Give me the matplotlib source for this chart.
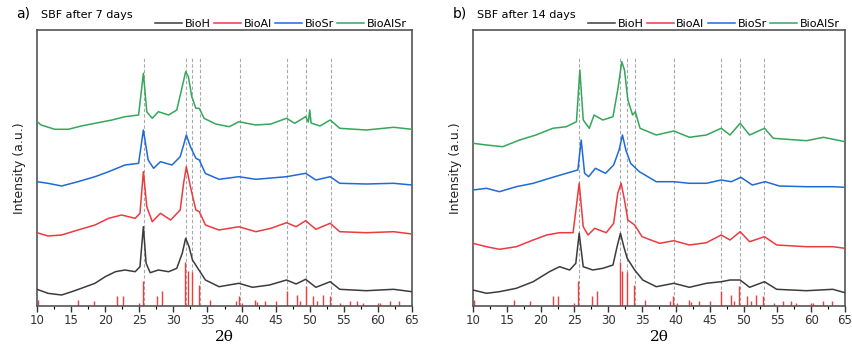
import matplotlib
matplotlib.use("Agg")
import numpy as np
from matplotlib import pyplot as plt
from matplotlib.ticker import MultipleLocator

# --- SBF after 7 days (2theta, intensity a.u.) ---
bioh_7_x = [10.0, 11.6, 13.6, 15.1, 16.5, 18.5, 20.0, 21.5, 22.9, 24.4, 25.1, 25.6, 26.0, 26.6, 27.8, 29.3,
            30.5, 31.3, 31.8, 32.3, 32.8, 33.7, 34.7, 36.7, 39.6, 41.6, 44.1, 46.6, 48.0, 49.4, 50.9, 53.0,
            54.4, 58.3, 62.3, 65.0]
bioh_7_y = [16.7, 12.7, 11, 14.3, 17.7, 22.7, 29.3, 34.3, 36, 34.3, 39.3, 79.3, 42.7, 33.3, 36, 34.3,
            37.7, 52.7, 67.7, 59.3, 46, 36.5, 26, 19.3, 22.7, 18.7, 21, 26, 22, 26.7, 18.7, 24.3,
            16.7, 15.3, 16.7, 14.3]
bioal_7_x = [10.0, 11.6, 13.6, 16.0, 18.5, 20.5, 22.4, 24.4, 25.1, 25.6, 26.1, 26.9, 28.1, 29.6, 31.0, 31.5,
             31.9, 32.5, 33.3, 33.8, 34.7, 36.7, 39.6, 42.1, 44.3, 46.6, 48.0, 49.4, 50.9, 53.0, 54.4, 58.3,
             62.3, 65.0]
bioal_7_y = [73.3, 70, 71, 76, 81, 87.7, 91, 87.7, 92.7, 134.3, 99.3, 84.3, 92.7, 86, 96, 122.7,
             139.3, 119.3, 96, 94.3, 81, 76, 79.3, 74.3, 77.7, 83.3, 79.3, 85.3, 76.7, 82.7, 74.3, 73.3,
             74.3, 72]
biosr_7_x = [10.0, 11.6, 13.6, 16.0, 18.5, 20.5, 22.9, 24.9, 25.6, 26.3, 27.1, 28.1, 29.8, 31.0, 31.5, 31.9,
             32.5, 33.3, 33.8, 34.7, 36.7, 39.6, 42.1, 46.6, 49.4, 50.9, 53.0, 54.4, 58.3, 62.3, 65.0]
biosr_7_y = [124.3, 122.7, 120, 124.3, 129.3, 134.3, 141, 142.7, 176, 146, 137.7, 144.3, 141, 149.3, 161, 171,
             159.3, 147.7, 146, 132.5, 126.7, 129.3, 126.7, 129.3, 132.7, 126, 129.3, 122.7, 122, 122.7, 121]
bioalsr_7_x = [10.0, 10.6, 12.6, 14.6, 16.5, 18.5, 21.0, 22.9, 24.9, 25.6, 26.1, 26.9, 27.8, 29.3, 30.5, 31.3,
               31.8, 32.2, 32.7, 33.3, 33.8, 34.5, 36.2, 38.2, 39.6, 42.1, 44.3, 46.6, 47.8, 49.4, 49.8, 50.0,
               50.2, 51.5, 53.0, 54.4, 58.3, 62.3, 65.0]
bioalsr_7_y = [184.3, 181, 176.7, 176.7, 180, 182.7, 186, 189.3, 191, 232.7, 194.3, 187.7, 194.3, 191, 196, 219.3,
               234.3, 229.3, 209.3, 197.7, 197.7, 187.7, 182, 179.3, 184.3, 181, 182, 187.7, 182.7, 189.3, 184, 196,
               183, 180, 186, 177.7, 176, 178.7, 176.7]

# --- SBF after 14 days ---
bioh_14_x = [10.0, 12.0, 13.9, 16.4, 18.9, 21.3, 22.8, 24.3, 25.2, 25.7, 26.3, 27.7, 29.2, 30.7, 31.3, 31.8,
             32.3, 32.8, 33.9, 35.1, 37.1, 39.7, 42.0, 44.5, 46.7, 48.0, 49.5, 50.9, 53.1, 54.9, 59.3, 63.2, 65.0]
bioh_14_y = [16, 12.7, 14.3, 17.7, 24.3, 34.3, 39.3, 36, 42.7, 72.7, 39.3, 36, 37.7, 41, 59.3, 72.7,
             59.3, 47.7, 36, 26, 19.3, 22.7, 18.7, 22.7, 24.3, 26, 26, 18.7, 24.3, 16.7, 15.3, 16.7, 13.3]
bioal_14_x = [10.0, 12.0, 13.9, 16.4, 18.9, 20.9, 22.8, 24.8, 25.7, 26.3, 27.0, 28.0, 29.7, 30.8, 31.4, 31.9,
              32.4, 32.9, 33.9, 35.0, 37.6, 39.7, 42.0, 44.5, 46.7, 48.0, 49.5, 50.9, 53.1, 54.9, 59.3, 63.2, 65.0]
bioal_14_y = [62.7, 59.3, 56.7, 59.3, 66, 71, 73.3, 73.3, 122.7, 79.3, 71, 77.7, 73.3, 82.7, 112.7, 122.7,
              106, 86, 81, 69.3, 62.7, 65.3, 61, 63.3, 71, 66, 74.3, 64.3, 69.3, 61, 59.3, 59.3, 57.7]
biosr_14_x = [10.0, 12.0, 13.9, 16.4, 18.9, 21.3, 23.8, 25.5, 26.0, 26.5, 27.1, 28.1, 29.6, 30.8, 31.6, 32.1,
              32.6, 33.3, 34.6, 37.1, 39.7, 42.0, 44.5, 46.7, 48.2, 49.6, 51.3, 53.2, 55.3, 59.3, 63.2, 65.0]
biosr_14_y = [116, 117.7, 114.3, 119.3, 122.7, 127.7, 132.7, 136, 166, 132.7, 129.3, 137.7, 132.7, 141, 156, 171,
              156, 142.7, 134.3, 124.3, 124.3, 122.7, 122.7, 126, 124.3, 128.7, 121, 124.3, 120, 119.3, 119.3, 118.7]
bioalsr_14_x = [10.0, 12.0, 14.4, 16.9, 19.3, 21.8, 23.8, 25.3, 25.8, 26.3, 27.2, 27.9, 29.2, 30.7, 31.4, 32.0,
                32.4, 32.9, 33.6, 34.0, 34.7, 37.1, 39.7, 42.0, 44.5, 46.7, 48.0, 49.5, 50.9, 53.1, 54.4, 59.3,
                61.8, 65.0]
bioalsr_14_y = [162.7, 161, 159.3, 166, 171, 177.7, 179.3, 184.3, 236, 186, 177.7, 191, 186, 189.3, 216, 244.3,
                236, 206, 191, 194.3, 177.7, 171, 175, 168.7, 171, 177.7, 171, 182.7, 171, 177.7, 167.7, 165.3,
                168.7, 164.3]

# hydroxyapatite reference pattern (red sticks)
ref_pos = [10.1, 16.0, 18.4, 21.8, 22.6, 25.0, 25.5, 27.6, 28.3, 31.7, 32.1, 32.8, 33.8, 35.4, 39.2, 39.6,
           40.1, 42.0, 42.2, 43.4, 45.1, 46.6, 48.1, 48.6, 49.4, 50.5, 51.1, 51.9, 52.9, 54.5, 55.9, 57.0,
           57.8, 60.0, 60.3, 61.7, 63.1]
ref_int = [6, 6, 5, 10.3, 10.3, 3, 25, 10.3, 15, 44, 35, 34, 21, 6, 5, 10.3,
           3, 6, 4, 5, 5, 15, 11, 5, 20, 10, 5, 11, 10, 3, 5, 5,
           3, 3, 3, 5, 5]
dashed_pos = [25.7, 31.8, 32.8, 33.9, 39.7, 46.7, 49.5, 53.1]

labels = ["BioH", "BioAl", "BioSr", "BioAlSr"]
colors = ["#3c3c3c", "#ec3a3f", "#1f6ad8", "#35a65a"]

panels = [
    ("a)", "SBF after 7 days", [(bioh_7_x, bioh_7_y), (bioal_7_x, bioal_7_y),
                                (biosr_7_x, biosr_7_y), (bioalsr_7_x, bioalsr_7_y)]),
    ("b)", "SBF after 14 days", [(bioh_14_x, bioh_14_y), (bioal_14_x, bioal_14_y),
                                 (biosr_14_x, biosr_14_y), (bioalsr_14_x, bioalsr_14_y)]),
]

fig = plt.figure(figsize=(8.53, 3.5), dpi=100)
rects = [[0.0434, 0.1257, 0.4396, 0.7886], [0.5545, 0.1257, 0.4361, 0.7886]]

for rect, (tag, title, series) in zip(rects, panels):
    ax = fig.add_axes(rect)
    for xp in dashed_pos:
        ax.axvline(xp, ymin=0.0, ymax=0.9, color="#a8a8a8", lw=0.8, ls=(0, (3, 2)), zorder=1)
    ax.vlines(ref_pos, 0, ref_int, color="#f03c3c", lw=1.0, zorder=2)
    for (xs, ys), c, lab in zip(series, colors, labels):
        ax.plot(xs, ys, color=c, lw=1.1, label=lab, zorder=3)

    ax.set_xlim(10, 65)
    ax.set_ylim(0, 276)
    ax.xaxis.set_major_locator(MultipleLocator(5))
    ax.xaxis.set_minor_locator(MultipleLocator(2.5))
    ax.tick_params(axis="x", which="major", direction="out", length=4, width=1, labelsize=8.5,
                   colors="#333333", pad=2)
    ax.tick_params(axis="x", which="minor", direction="out", length=2.5, width=0.8)
    ax.set_yticks([])
    for sp in ax.spines.values():
        sp.set_color("#555555")
        sp.set_linewidth(1.2)
    ax.set_xlabel("2θ", family="DejaVu Serif", fontsize=11, labelpad=2)
    ax.set_ylabel("Intensity (a.u.)", fontsize=9, labelpad=8, color="#222222")

    ax.text(-0.055, 1.035, tag, transform=ax.transAxes, fontsize=10, ha="left", va="bottom")
    ax.text(0.01, 1.035, title, transform=ax.transAxes, fontsize=8, ha="left", va="bottom")
    ax.legend(loc="lower right", bbox_to_anchor=(1.0, 0.985), ncol=4, frameon=False, fontsize=8,
              handlelength=2.4, columnspacing=0.3, handletextpad=0.25, borderaxespad=0.1)

plt.savefig("out.png", dpi=100)
